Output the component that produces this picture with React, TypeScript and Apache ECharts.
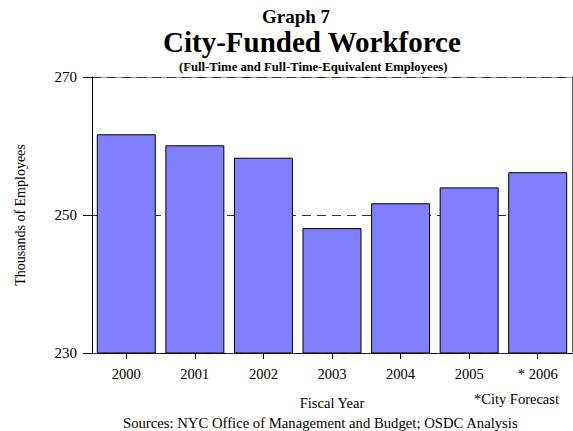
import React, { useEffect, useRef } from "react";
import * as echarts from "echarts";

const categories = ["2000", "2001", "2002", "2003", "2004", "2005", "* 2006"];
const workforce = [261.7, 260.1, 258.3, 248.1, 251.7, 254.0, 256.2];
const yMin = 230;
const yMax = 270;
const yInterval = 20;

const FONT = "'Liberation Serif', 'Times New Roman', serif";

export default function App() {
  const ref = useRef<HTMLDivElement>(null);
  useEffect(() => {
    if (!ref.current) return;
    const chart = echarts.init(ref.current, null, { renderer: "svg" });
    chart.setOption({
      animation: false,
      backgroundColor: "#ffffff",
      textStyle: { fontFamily: FONT },
      title: [
        {
          text: "Graph 7",
          left: 262,
          top: 7,
          padding: 0,
          textStyle: { fontFamily: FONT, fontSize: 19, fontWeight: "bold", color: "#000" },
        },
        {
          text: "City-Funded Workforce",
          left: 163,
          top: 27,
          padding: 0,
          textStyle: { fontFamily: FONT, fontSize: 29, fontWeight: "bold", color: "#000" },
        },
        {
          text: "(Full-Time and Full-Time-Equivalent Employees)",
          left: 179,
          top: 60,
          padding: 0,
          textStyle: { fontFamily: FONT, fontSize: 12.7, fontWeight: "bold", color: "#000" },
        },
      ],
      grid: { left: 92, right: 1, top: 77, bottom: 78, containLabel: false },
      xAxis: [
        {
          type: "category",
          data: categories,
          name: "Fiscal Year",
          nameLocation: "middle",
          nameGap: 42,
          nameTextStyle: { fontFamily: FONT, fontSize: 14.5, color: "#000" },
          axisLine: { show: true, lineStyle: { color: "#000", width: 1 } },
          axisTick: { show: true, alignWithLabel: true, length: 6, lineStyle: { color: "#000" } },
          axisLabel: { fontFamily: FONT, fontSize: 14.5, color: "#000", margin: 13 },
        },
        {
          type: "category",
          data: categories,
          position: "top",
          z: -1,
          axisLine: { show: true, lineStyle: { color: "#999", width: 1 } },
          axisTick: { show: false },
          axisLabel: { show: false },
          splitLine: { show: false },
        },
      ],
      yAxis: [
        {
          type: "value",
          min: yMin,
          max: yMax,
          interval: yInterval,
          z: 1,
          name: "Thousands of Employees",
          nameLocation: "middle",
          nameGap: 65,
          nameRotate: 90,
          nameTextStyle: { fontFamily: FONT, fontSize: 14, color: "#000" },
          axisLine: { show: true, lineStyle: { color: "#000", width: 1 } },
          axisTick: { show: true, length: 9, lineStyle: { color: "#000" } },
          axisLabel: { fontFamily: FONT, fontSize: 15, color: "#000", margin: 15 },
          splitLine: {
            show: true,
            lineStyle: { color: "#333", type: [9, 6], width: 1 },
          },
        },
        {
          type: "value",
          min: yMin,
          max: yMax,
          interval: yInterval,
          position: "right",
          axisLine: { show: true, lineStyle: { color: "#666", width: 1 } },
          axisTick: { show: false },
          axisLabel: { show: false },
          splitLine: { show: false },
        },
      ],
      series: [
        {
          type: "bar",
          data: workforce,
          barCategoryGap: "14%",
          z: 2,
          itemStyle: { color: "#8080FF", borderColor: "#000", borderWidth: 1 },
        },
      ],
      graphic: [
        {
          type: "text",
          left: 474,
          top: 391,
          style: { text: "*City Forecast", fontFamily: FONT, fontSize: 14.5, fill: "#000" },
        },
        {
          type: "text",
          left: 123,
          top: 415,
          style: {
            text: "Sources: NYC Office of Management and Budget; OSDC Analysis",
            fontFamily: FONT,
            fontSize: 14.7,
            fill: "#000",
          },
        },
      ],
    });
    return () => chart.dispose();
  }, []);
  return <div ref={ref} style={{ width: 573, height: 431, position: "absolute", left: 0, top: 0 }} />;
}
